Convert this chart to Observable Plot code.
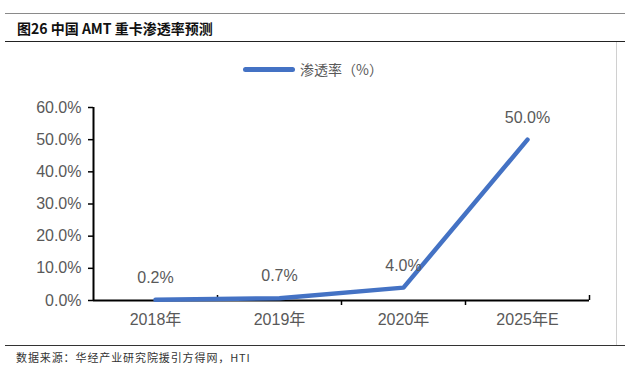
<!DOCTYPE html>
<html>
<head>
<meta charset="utf-8">
<script src="https://cdn.jsdelivr.net/npm/d3@7"></script>
<script src="https://cdn.jsdelivr.net/npm/@observablehq/plot@0.6"></script>
<style>
  html, body { margin: 0; padding: 0; background: #fff; }
  #wrap { position: relative; width: 633px; height: 377px; overflow: hidden; font-family: "Liberation Sans", Arial, "Noto Sans CJK SC", sans-serif; }
  #chart { position: absolute; left: 0; top: 0; }
  .hline { position: absolute; left: 5px; width: 620px; }
  #title { position: absolute; left: 17px; top: 18px; font: bold 14px "Noto Sans CJK SC", "Liberation Sans", sans-serif; color: #111; white-space: nowrap; }
  #source { position: absolute; left: 16px; top: 349px; font: 11px "Noto Sans CJK SC", sans-serif; letter-spacing: 0.9px; color: #333; white-space: nowrap; }
  #legend { position: absolute; left: 243px; top: 59px; display: flex; align-items: center; font: 14px "Noto Sans CJK SC", sans-serif; color: #595959; }
  #legend .sw { width: 52px; height: 5px; border-radius: 3px; background: #4472C4; margin-right: 5px; }
</style>
</head>
<body>
<div id="wrap">
  <div class="hline" style="top:13px;border-top:1.5px solid #8a8a8a;"></div>
  <div id="title">图26 中国 AMT 重卡渗透率预测</div>
  <div class="hline" style="top:41px;border-top:1.5px solid #222;"></div>
  <div style="position:absolute;left:616px;top:42px;height:304px;border-left:1px solid #d0d0d0;"></div>
  <div id="chart"></div>
  <div id="legend"><div class="sw"></div><span>渗透率（%）</span></div>
  <div class="hline" style="top:345px;border-top:1.5px solid #333;"></div>
  <div id="source">数据来源：华经产业研究院援引方得网，HTI</div>
</div>
<script>
const categories = ["2018年", "2019年", "2020年", "2025年E"];
const values = [0.2, 0.7, 4.0, 50.0];
const yTicks = [0, 10, 20, 30, 40, 50, 60];

const data = categories.map((c, i) => ({ i, c, v: values[i] }));
const n = categories.length;
const bounds = d3.range(n + 1).map(k => k - 0.5);
const gray = "#595959";

const plot = Plot.plot({
  width: 633,
  height: 377,
  marginLeft: 93,
  marginRight: 44,
  marginTop: 107,
  marginBottom: 77,
  style: { fontFamily: "'Liberation Sans', Arial, 'Noto Sans CJK SC', sans-serif", fontSize: "16px", background: "transparent" },
  x: { type: "linear", domain: [-0.5, n - 0.5] },
  y: { domain: [0, 60] },
  marks: [
    Plot.axisY({ ticks: yTicks, tickSize: 5, tickPadding: 7, tickFormat: d => d.toFixed(1) + "%", stroke: "black", strokeWidth: 1.5, fill: gray, fontSize: 16, label: null }),
    Plot.axisX({ ticks: bounds.slice(2, n), tickSize: 5, tickFormat: () => "", stroke: "black", strokeWidth: 1.5, label: null }),
    Plot.axisX({ ticks: [bounds[1], bounds[n]], tickSize: -5, tickFormat: () => "", stroke: "black", strokeWidth: 1.5, label: null }),
    Plot.axisX({ ticks: d3.range(n), tickSize: 0, tickPadding: 13, tickFormat: i => categories[i], fill: gray, fontSize: 16, label: null }),
    Plot.ruleY([0], { stroke: "black", strokeWidth: 2 }),
    Plot.ruleX([-0.5], { stroke: "black", strokeWidth: 2 }),
    Plot.line(data, { x: "i", y: "v", stroke: "#4472C4", strokeWidth: 4.5, strokeLinejoin: "round", strokeLinecap: "round" }),
    Plot.text(data, { x: "i", y: "v", text: d => d.v.toFixed(1) + "%", dy: -22, fill: gray, fontSize: 16 })
  ]
});
document.getElementById("chart").appendChild(plot);
</script>
</body>
</html>
